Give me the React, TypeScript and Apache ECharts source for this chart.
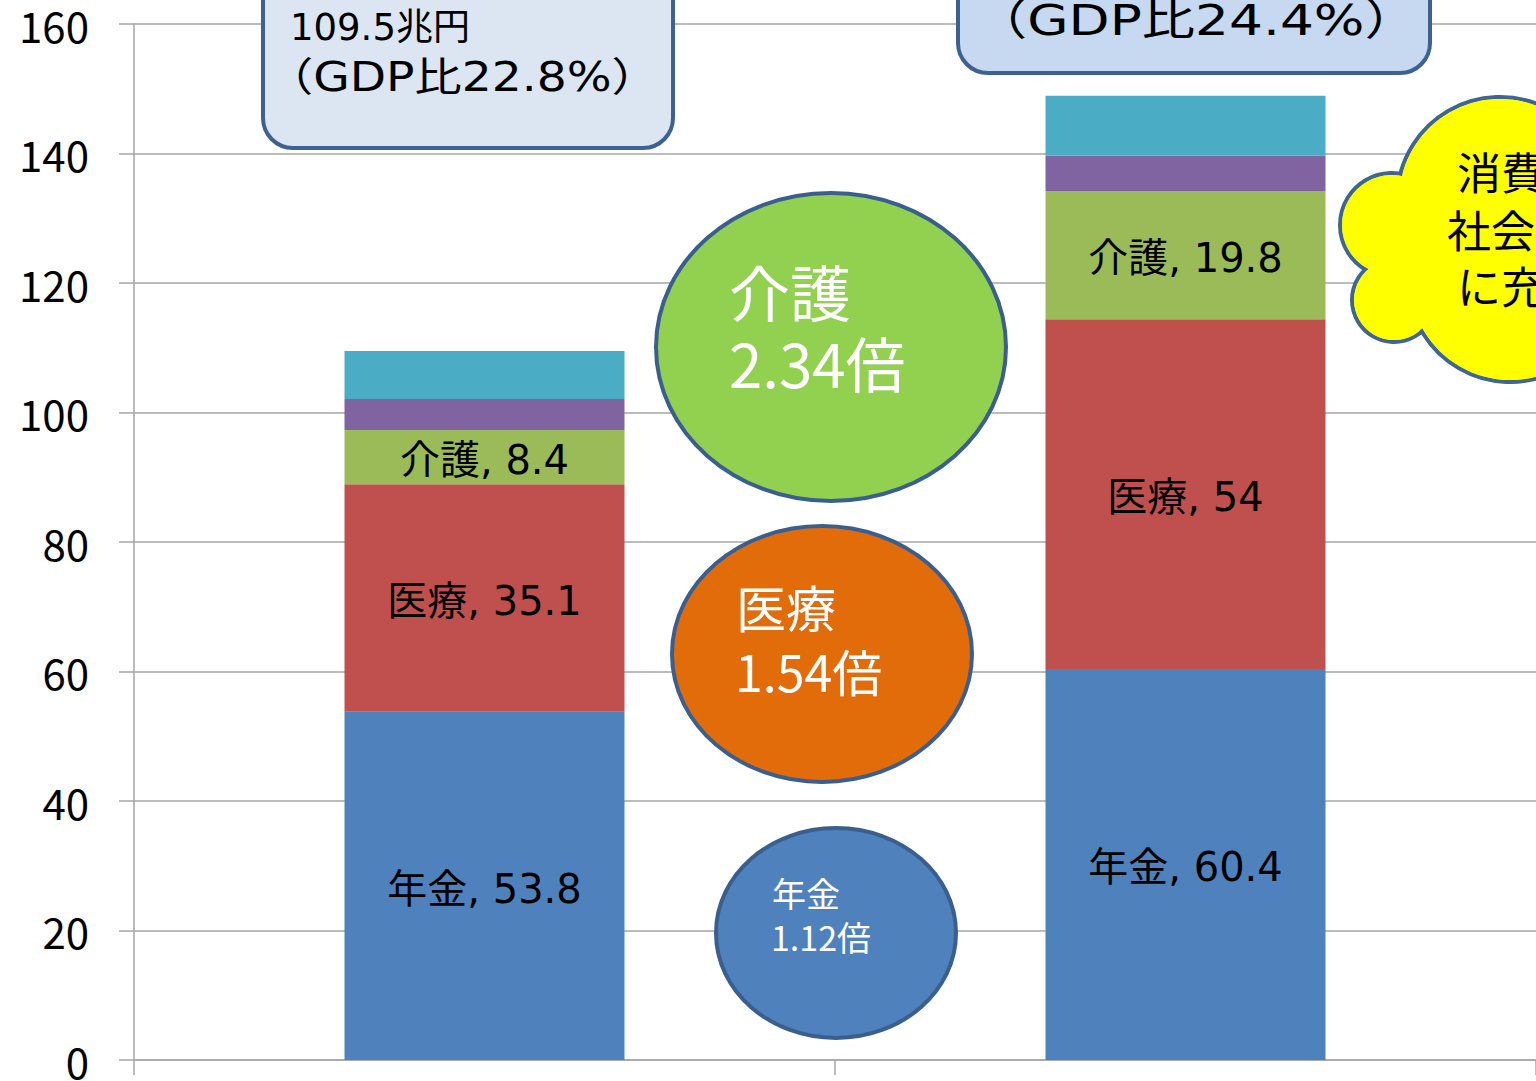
import React, { useEffect, useRef } from "react";
import * as echarts from "echarts";

const categories = ["2012年度", "2025年度"];
const pension = [53.8, 60.4];
const medical = [35.1, 54.0];
const care = [8.4, 19.8];
const childcare = [4.8, 5.5];
const others = [7.4, 9.2];
const yTicks = { min: 0, max: 160, interval: 20 };

const FONT = '"Noto Sans CJK JP", "Noto Sans", sans-serif';
const WIDE = '"DejaVu Sans", "Noto Sans CJK JP", sans-serif';

export default function App() {
  const ref = useRef<HTMLDivElement>(null);
  useEffect(() => {
    if (!ref.current) return;
    const chart = echarts.init(ref.current, null, { renderer: "svg" });
    const labelCfg = {
      show: true,
      position: "inside",
      offset: [0, 3],
      color: "#000",
      fontSize: 40,
      fontFamily: WIDE,
      formatter: (p: any) => `${p.seriesName}, ${p.value}`,
    };
    const mk = (name: string, data: number[], color: string, label: boolean) => ({
      name,
      type: "bar",
      stack: "total",
      barWidth: 280,
      data,
      itemStyle: { color },
      label: label ? labelCfg : { show: false },
      emphasis: { disabled: true },
    });
    const tx = (
      x: number,
      cy: number,
      text: string,
      size: number,
      fill: string,
      family = FONT,
      scaleX = 1
    ) => ({
      type: "text",
      x,
      y: cy,
      z: 20,
      scaleX,
      style: {
        text,
        fontSize: size,
        fontFamily: family,
        fill,
        verticalAlign: "middle",
        align: "left",
        lineHeight: size,
      },
    });
    const cloudCircles = [
      [1500, 200, 103],
      [1392, 225, 52],
      [1394, 300, 42],
      [1510, 280, 102],
    ];
    const graphics: any[] = [
      {
        type: "rect",
        z: 10,
        shape: { x: 263, y: -30, width: 410, height: 178, r: 30 },
        style: { fill: "#dce6f2", stroke: "#3d6191", lineWidth: 4 },
      },
      tx(290, 27, "109.5兆円", 37, "#000", WIDE),
      tx(266, 77, "（GDP比22.8%）", 40, "#000", WIDE, 1.18),
      {
        type: "rect",
        z: 10,
        shape: { x: 958, y: -60, width: 472, height: 133, r: 30 },
        style: { fill: "#c6d9f1", stroke: "#3d6191", lineWidth: 4 },
      },
      tx(974, 20, "（GDP比24.4%）", 43, "#000", WIDE, 1.24),
      {
        type: "ellipse",
        z: 10,
        shape: { cx: 831, cy: 347, rx: 175, ry: 154 },
        style: { fill: "#92d050", stroke: "#3a5f8f", lineWidth: 4 },
      },
      tx(729, 290, "介護", 61, "#fff"),
      tx(729, 361, "2.34倍", 60, "#fff"),
      {
        type: "ellipse",
        z: 10,
        shape: { cx: 822, cy: 654, rx: 150, ry: 128 },
        style: { fill: "#e36c0a", stroke: "#3a5f8f", lineWidth: 4 },
      },
      tx(736, 606, "医療", 50, "#fff"),
      tx(735, 670, "1.54倍", 50, "#fff"),
      {
        type: "ellipse",
        z: 10,
        shape: { cx: 836, cy: 933, rx: 120, ry: 105 },
        style: { fill: "#4f81bd", stroke: "#3a5f8f", lineWidth: 4 },
      },
      tx(772, 892, "年金", 34, "#fff"),
      tx(771, 936, "1.12倍", 34, "#fff"),
    ];
    cloudCircles.forEach(([cx, cy, r]) =>
      graphics.push({
        type: "circle",
        z: 10,
        shape: { cx, cy, r },
        style: { fill: "#ffff00", stroke: "#3f6592", lineWidth: 4 },
      })
    );
    cloudCircles.forEach(([cx, cy, r]) =>
      graphics.push({
        type: "circle",
        z: 11,
        shape: { cx, cy, r: r - 2 },
        style: { fill: "#ffff00" },
      })
    );
    graphics.push({
      type: "circle",
      z: 11,
      shape: { cx: 1540, cy: 240, r: 120 },
      style: { fill: "#ffff00" },
    });
    graphics.push(tx(1457, 171, "消費", 44, "#000"));
    graphics.push(tx(1447, 229, "社会", 44, "#000"));
    graphics.push(tx(1457, 285, "に充", 44, "#000"));

    chart.setOption({
      animation: false,
      textStyle: { fontFamily: FONT },
      grid: { left: 134, right: -4, top: 24, bottom: 21, containLabel: false },
      xAxis: {
        type: "category",
        data: categories,
        boundaryGap: true,
        axisLine: { show: true, lineStyle: { color: "#a6a6a6", width: 1.5 } },
        axisTick: { show: true, length: 15, alignWithLabel: false, lineStyle: { color: "#a6a6a6", width: 1.5 } },
        axisLabel: { show: false },
        splitLine: { show: false },
      },
      yAxis: {
        type: "value",
        min: yTicks.min,
        max: yTicks.max,
        interval: yTicks.interval,
        axisLine: { show: true, lineStyle: { color: "#a6a6a6", width: 1.5 } },
        axisTick: { show: true, length: 15, lineStyle: { color: "#a6a6a6", width: 1.5 } },
        axisLabel: { color: "#000", fontSize: 42, margin: 45, fontFamily: FONT },
        splitLine: { show: true, lineStyle: { color: "#a6a6a6", width: 1.5 } },
      },
      series: [
        mk("年金", pension, "#4f81bd", true),
        mk("医療", medical, "#c0504d", true),
        mk("介護", care, "#9bbb59", true),
        mk("子ども・子育て", childcare, "#8064a2", false),
        mk("その他", others, "#4bacc6", false),
      ],
      graphic: { elements: graphics },
    });
    return () => chart.dispose();
  }, []);
  return (
    <div
      ref={ref}
      style={{ position: "fixed", left: 0, top: 0, width: 1536, height: 1081, background: "#fff" }}
    />
  );
}
